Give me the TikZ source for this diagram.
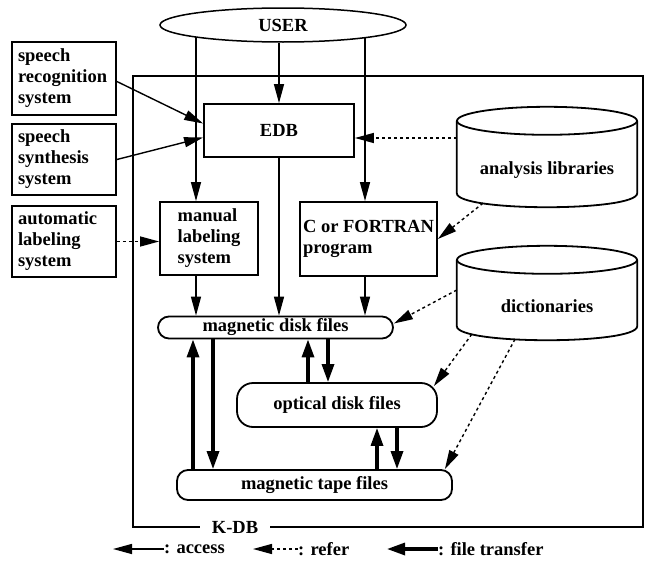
\documentclass[tikz,border=0pt]{standalone}
\usepackage{fontspec}
\setmainfont{Liberation Serif}
\usetikzlibrary{arrows.meta,shapes.geometric}
\begin{document}
\begin{tikzpicture}[x=1pt,y=-1pt,
  lbl/.style={font=\fontsize{18.5}{21}\selectfont\bfseries},
  sb/.style={lbl,draw,line width=1.8pt,align=left,inner sep=0pt},
  fb/.style={lbl,draw,line width=1.8pt,rounded corners=11pt,inner sep=0pt},
  db/.style={lbl,inner sep=0pt,minimum width=180pt},
  ac/.style={line width=1.4pt,-{Triangle[length=19pt,width=10pt]}},
  rf/.style={line width=1.4pt,dash pattern=on 3pt off 3pt,-{Triangle[length=19pt,width=10pt]}},
  ft/.style={line width=3.2pt,-{Triangle[length=18pt,width=12pt]}}]
  \useasboundingbox (0,0) rectangle (645,562);
  % outside systems
  \node[sb,minimum width=104pt,minimum height=73pt,text width=92pt] (srec) at (64,78.5) {speech\\recognition\\system};
  \node[sb,minimum width=104pt,minimum height=71pt,text width=92pt] (ssyn) at (64,159.5) {speech\\synthesis\\system};
  \node[sb,minimum width=104pt,minimum height=71pt,text width=92pt] (alab) at (64,241.5) {automatic\\labeling\\system};
  % user and the K-DB frame
  \node[lbl,ellipse,draw,line width=1.5pt,minimum width=246pt,minimum height=34pt,inner sep=0pt] (user) at (283,25) {USER};
  \node[lbl,inner xsep=12pt,inner ysep=0pt] (kdb) at (235,527) {K-DB};
  \draw[line width=1.5pt] (kdb.west) -- (133,527) -- (133,76) -- (643,76) -- (643,527) -- (kdb.east);
  % boxes inside K-DB
  \node[sb,minimum width=150pt,minimum height=53pt] (edb) at (279,130.5) {EDB};
  \node[sb,minimum width=98pt,minimum height=73pt] (man) at (209,238.5) {manual\\labeling\\system};
  \node[sb,minimum width=137pt,minimum height=74pt] (prog) at (368.5,239) {C or FORTRAN\\program};
  % files
  \node[fb,minimum width=235pt,minimum height=22pt] (mdisk) at (275.5,327.5) {magnetic disk files};
  \node[fb,minimum width=200pt,minimum height=44pt,rounded corners=16pt] (odisk) at (337,405) {optical disk files};
  \node[fb,minimum width=275pt,minimum height=30pt] (tape) at (314.5,485) {magnetic tape files};
  % libraries (cylinders)
  \node[db,minimum height=74pt] (alib) at (547,170) {analysis libraries};
  \node[db,minimum height=68pt] (dict) at (547,306) {dictionaries};
  \foreach \cy in {alib,dict} {
    \draw[line width=1.8pt] ([yshift=12pt]\cy.north) ellipse [x radius=90pt,y radius=14pt];
    \draw[line width=1.8pt] ([yshift=12pt]\cy.north west) -- ([yshift=14pt]\cy.south west)
      .. controls ([yshift=-4.7pt]\cy.south west) and ([yshift=-4.7pt]\cy.south east) .. ([yshift=14pt]\cy.south east)
      -- ([yshift=12pt]\cy.north east);
  }
  % access
  \coordinate (u1) at (196,37);
  \coordinate (u3) at (365,38);
  \draw[ac] (u1) -- (u1 |- man.north);
  \draw[ac] (user.south -| edb.north) -- (edb.north);
  \draw[ac] (u3) -- (u3 |- prog.north);
  \draw[ac] ([yshift=-3pt]srec.east) -- ([yshift=7pt]edb.west);
  \draw[ac] (ssyn.east) -- ([yshift=-7pt]edb.west);
  \draw[ac] (u1 |- man.south) -- (u1 |- mdisk.north);
  \draw[ac] (edb.south) -- (edb.south |- mdisk.north);
  \draw[ac] (u3 |- prog.south) -- (u3 |- mdisk.north);
  % refer
  \draw[rf] (alab.east) -- (alab.east -| man.west);
  \draw[rf] ([yshift=32pt]alib.west) coordinate (r1) -- (r1 -| edb.east);
  \draw[rf] ([xshift=-64pt,yshift=4pt]alib.south) -- (prog.east);
  \draw[rf] ([yshift=16pt]dict.west) -- ([yshift=4pt]mdisk.east);
  \draw[rf] ([xshift=15pt,yshift=6pt]dict.south west) -- ([shift={(-4pt,-4pt)}]odisk.north east);
  \draw[rf] ([xshift=-32pt,yshift=1pt]dict.south) -- ([xshift=-8pt]tape.north east);
  % file transfer
  \foreach \ta/\tb/\x in {tape/mdisk/193,odisk/mdisk/308,tape/odisk/377} {
    \draw[ft] (\x,0 |- \ta.north) -- (\x,0 |- \tb.south);
    \draw[ft] (\x+20,0 |- \tb.south) -- (\x+20,0 |- \ta.north);
  }
  % legend
  \node[lbl,anchor=west,inner sep=0pt] (lac) at (164,549) {: access};
  \draw[ac] (lac.west) -- ++(-51,0) coordinate (e1);
  \node[lbl,anchor=west,inner sep=0pt] (lrf) at (298,549) {: refer};
  \draw[rf] (lrf.west) -- ++(-45,0) coordinate (e2);
  \node[lbl,anchor=west,inner sep=0pt] (lft) at (438,549) {: file transfer};
  \draw[ft] (lft.west) -- ++(-51,0) coordinate (e3);
\end{tikzpicture}
\end{document}
